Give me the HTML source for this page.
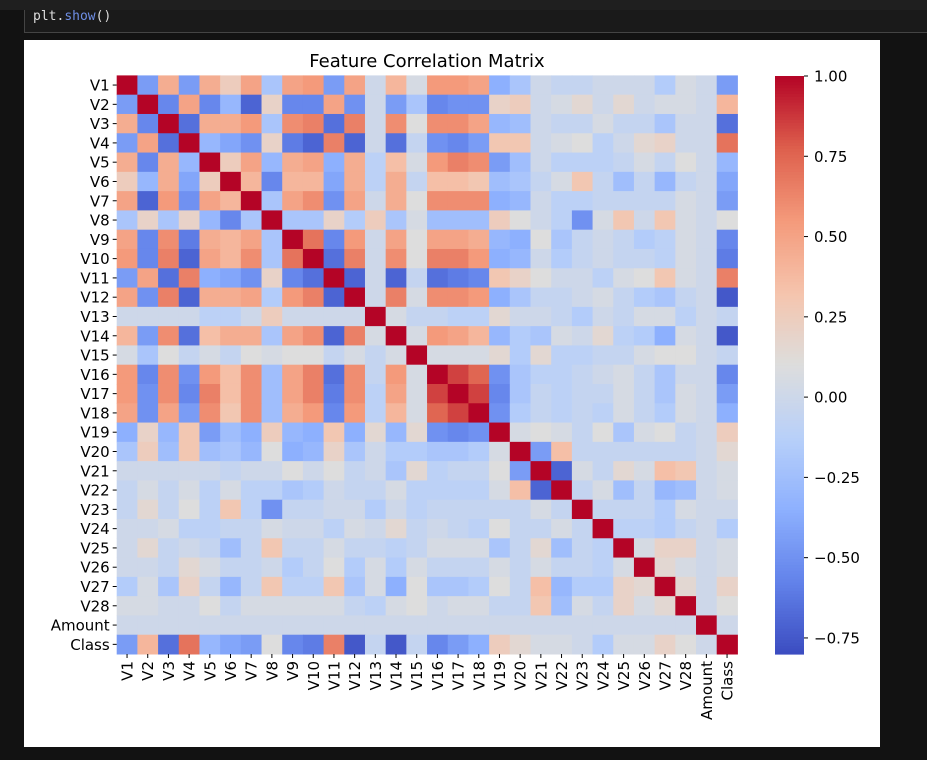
<!DOCTYPE html>
<html><head><meta charset="utf-8">
<style>
body{margin:0;width:927px;height:760px;background:#121212;overflow:hidden;font-family:"DejaVu Sans","Liberation Sans",sans-serif;position:relative}
#topbar{position:absolute;left:0;top:0;width:927px;height:10px;background:#1f1f1f}
#code{position:absolute;left:24px;top:10px;width:903px;height:23px;background:#1a1a1a;border-left:1px solid #444;border-bottom:1px solid #444;box-sizing:border-box;font-family:"DejaVu Sans Mono","Liberation Mono",monospace;font-size:13px;color:#ddd;padding-left:8px;line-height:14px}
#fig{position:absolute;left:24px;top:40px;width:856px;height:707px;background:#fff}
svg{position:absolute;left:0;top:0}
</style></head><body>
<div id="topbar"></div>
<div id="code">plt.<span style="color:#6f8fe6">show</span>()</div>
<div id="fig"></div>
<svg id="chart" width="927" height="760"></svg>
<script>
const labels=["V1","V2","V3","V4","V5","V6","V7","V8","V9","V10","V11","V12","V13","V14","V15","V16","V17","V18","V19","V20","V21","V22","V23","V24","V25","V26","V27","V28","Amount","Class"];
const upperRows=[
[-0.45,0.45,-0.45,0.45,0.25,0.5,-0.2,0.5,0.55,-0.45,0.5,0,0.4,0.05,0.55,0.55,0.5,-0.35,-0.2,0,-0.05,-0.05,0,0,0,-0.15,0.05,0,-0.45],
[-0.55,0.5,-0.55,-0.3,-0.7,0.2,-0.55,-0.55,0.5,-0.5,0,-0.45,-0.2,-0.55,-0.5,-0.5,0.2,0.25,0,0.05,0.15,0,0.15,0,0.05,0.05,0,0.4],
[-0.65,0.45,0.45,0.55,-0.2,0.6,0.65,-0.65,0.65,0,0.6,0.1,0.6,0.6,0.5,-0.3,-0.25,0,-0.05,-0.05,0.05,-0.05,-0.05,-0.2,0,0,-0.65],
[-0.3,-0.4,-0.5,0.2,-0.6,-0.7,0.65,-0.7,0,-0.65,-0.05,-0.5,-0.55,-0.45,0.3,0.3,0,0.05,0.1,-0.1,0,0.15,0.2,0,0,0.7],
[0.25,0.5,-0.3,0.45,0.5,-0.35,0.45,-0.1,0.35,0.05,0.55,0.65,0.6,-0.45,-0.25,0,-0.1,-0.1,-0.1,-0.05,0.05,-0.05,0.1,0,-0.3],
[0.4,-0.55,0.4,0.4,-0.4,0.45,-0.1,0.45,-0.05,0.35,0.35,0.3,-0.25,-0.2,-0.05,0.05,0.3,-0.05,-0.25,-0.05,-0.3,-0.05,0,-0.4],
[-0.2,0.5,0.6,-0.5,0.5,0,0.45,0.1,0.6,0.6,0.6,-0.35,-0.3,0,-0.1,-0.1,-0.05,-0.05,-0.05,-0.05,0.05,0,-0.45],
[-0.2,-0.2,0.2,-0.15,0.25,-0.2,0.05,-0.25,-0.25,-0.25,0.25,0.1,0,-0.1,-0.5,0.05,0.3,0,0.3,0.05,0,0.1],
[0.7,-0.55,0.55,0,0.5,0.1,0.5,0.5,0.45,-0.3,-0.35,0.1,-0.2,-0.05,0,-0.05,-0.15,-0.1,0.05,0,-0.55],
[-0.65,0.65,0,0.6,0.1,0.65,0.65,0.55,-0.35,-0.3,0,-0.15,-0.05,0,-0.05,-0.05,-0.1,0.05,0,-0.6],
[-0.7,0,-0.7,-0.05,-0.65,-0.6,-0.55,0.3,0.2,0.1,0,0,-0.1,0.05,0.1,0.3,0.05,0,0.65],
[0,0.65,0.05,0.6,0.6,0.55,-0.35,-0.2,-0.05,-0.05,0,0.05,-0.05,-0.15,-0.2,-0.05,0,-0.75],
[0.05,-0.05,-0.05,-0.1,-0.1,0.15,0,0,-0.05,-0.15,0,-0.05,0.05,0.05,-0.1,0,-0.05],
[0.05,0.55,0.5,0.4,-0.3,-0.15,-0.2,0.05,0,0.15,-0.1,-0.15,-0.35,0.05,0,-0.75],
[0.05,0.05,0.05,0.15,-0.15,0.15,-0.1,-0.1,-0.05,-0.05,0.05,0.1,0.1,0,-0.05],
[0.85,0.75,-0.5,-0.2,-0.1,-0.1,-0.05,0,0.05,-0.05,-0.2,0,0,-0.55],
[0.85,-0.55,-0.2,-0.05,-0.1,-0.05,-0.05,0.05,-0.05,-0.2,0.05,0,-0.45],
[-0.5,-0.15,-0.05,-0.1,-0.05,-0.1,0.05,-0.05,-0.15,0.05,0,-0.35],
[0.05,0.1,0.05,-0.05,0.1,-0.2,0.05,0.1,-0.05,0,0.25],
[-0.45,0.35,-0.05,-0.05,-0.05,-0.05,-0.05,-0.05,0,0.15],
[-0.7,0.05,-0.05,0.15,0.05,0.35,0.3,0,0.05],
[-0.05,0.05,-0.25,-0.05,-0.3,-0.25,0,0.05],
[-0.05,-0.05,-0.05,-0.15,0.05,0,0],
[-0.1,-0.1,-0.15,-0.05,0,-0.15],
[0.05,0.2,0.2,0,0.05],
[0.15,0.05,0,0.05],
[0.15,0,0.2],
[0,0.1],
[0],
[]
];
const cbTicks=[1.0,0.75,0.5,0.25,0.0,-0.25,-0.5,-0.75];
const cbTickLabels=["1.00","0.75","0.50","0.25","0.00","\u22120.25","\u22120.50","\u22120.75"];
const vmin=-0.8,vmax=1.0;
const stops=[[59,76,192],[98,130,234],[141,176,254],[184,208,249],[221,221,221],[245,196,173],[244,154,123],[222,96,77],[180,4,38]];
function cmap(v){let t=(v-vmin)/(vmax-vmin);t=Math.max(0,Math.min(1,t));const p=t*8,i=Math.min(7,Math.floor(p)),f=p-i;const a=stops[i],b=stops[i+1];return `rgb(${Math.round(a[0]+(b[0]-a[0])*f)},${Math.round(a[1]+(b[1]-a[1])*f)},${Math.round(a[2]+(b[2]-a[2])*f)})`;}
const n=labels.length;
const M=[];for(let i=0;i<n;i++){M.push(new Array(n).fill(0));M[i][i]=1;}
for(let i=0;i<n;i++){upperRows[i].forEach((v,k)=>{const j=i+1+k;M[i][j]=v;M[j][i]=v;});}
const X0=116.7,X1=737.4,Y0=75.4,Y1=654;
const cw=(X1-X0)/n,ch=(Y1-Y0)/n;
const xPos=j=>X0+j*cw,yPos=i=>Y0+i*ch;
const NS="http://www.w3.org/2000/svg";
const svg=document.getElementById('chart');
function el(tag,attrs,parent){const e=document.createElementNS(NS,tag);for(const k in attrs)e.setAttribute(k,attrs[k]);(parent||svg).appendChild(e);return e;}
const ff='"DejaVu Sans","Liberation Sans",sans-serif';
const title=el('text',{x:427,y:67,'text-anchor':'middle','font-size':18,'font-family':ff,fill:'#000'});
title.textContent='Feature Correlation Matrix';


const g=el('g',{});


for(let i=0;i<n;i++)for(let j=0;j<n;j++){
 const r=el('rect',{x:xPos(j),y:yPos(i),width:cw+0.5,height:ch+0.5,fill:cmap(M[i][j])},g);
 
 
}
for(let i=0;i<n;i++){
 const y=yPos(i)+ch/2;
 el('line',{x1:X0-4,x2:X0,y1:y,y2:y,stroke:'#000','stroke-width':1});
 const t=el('text',{x:X0-7,y:y+5.5,'text-anchor':'end','font-size':15,'font-family':ff,fill:'#000'});
 t.textContent=labels[i];
 
 
 const x=xPos(i)+cw/2;
 el('line',{x1:x,x2:x,y1:Y1,y2:Y1+4,stroke:'#000','stroke-width':1});
 const u=el('text',{x:0,y:0,'text-anchor':'end','font-size':15,'font-family':ff,fill:'#000',transform:`translate(${x+5.5},${Y1+7}) rotate(-90)`});
 u.textContent=labels[i];
 
 
}
// colorbar
const CX=775,CW=29,CT=76,CB=654;
const cy=v=>CB-(v-vmin)/(vmax-vmin)*(CB-CT);
const cbg=el('g',{});


for(let k=0;k<200;k++){const v0=vmin+(vmax-vmin)*k/200,v1=vmin+(vmax-vmin)*(k+1)/200;el('rect',{x:CX,y:cy(v1),width:CW,height:cy(v0)-cy(v1)+0.6,fill:cmap((v0+v1)/2)},cbg);}
cbTicks.forEach((v,k)=>{const y=cy(v);el('line',{x1:CX+CW,x2:CX+CW+4,y1:y,y2:y,stroke:'#000','stroke-width':1});
 const t=el('text',{x:CX+CW+10,y:y+5.5,'font-size':15,'font-family':ff,fill:'#000'});t.textContent=cbTickLabels[k];
 
 });
</script>
</body></html>
